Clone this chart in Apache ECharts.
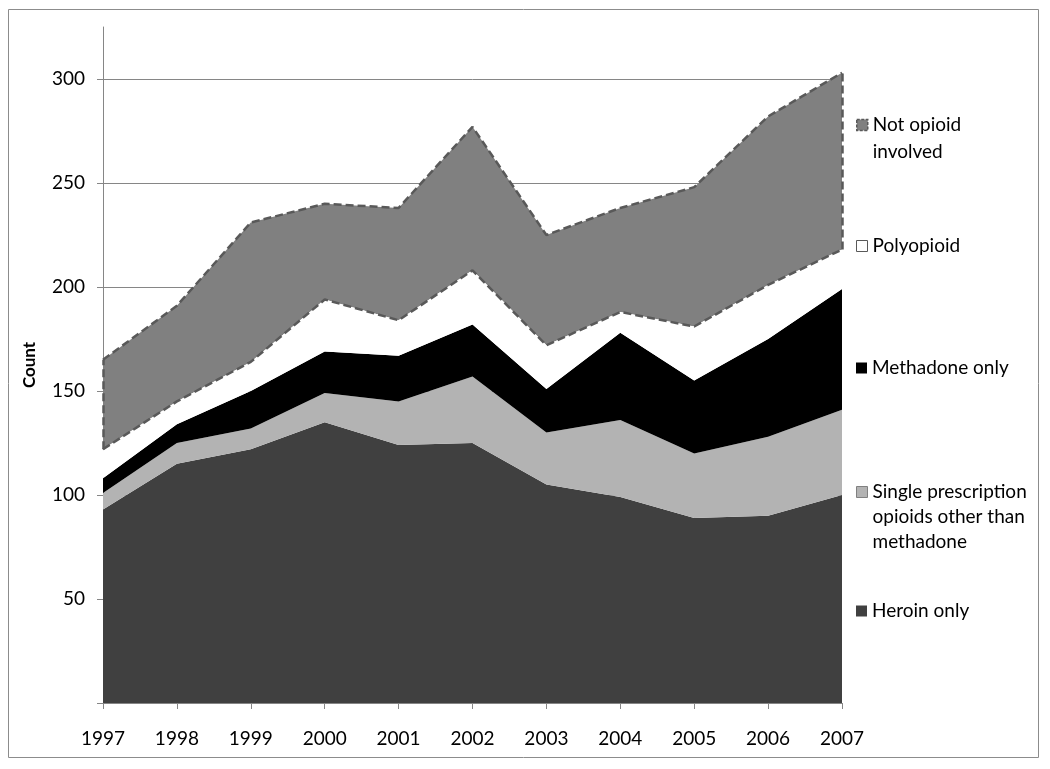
<!DOCTYPE html>
<html>
<head>
<meta charset="utf-8">
<script src="https://cdn.jsdelivr.net/npm/echarts@6/dist/echarts.min.js"></script>
<style>
html,body{margin:0;padding:0;background:#fff;}
#chart{width:1050px;height:769px;}
</style>
</head>
<body>
<div id="chart"></div>
<script>
const years = ['1997','1998','1999','2000','2001','2002','2003','2004','2005','2006','2007'];
const heroinOnly = [93,115,122,135,124,125,105,99,89,90,100];
const singlePrescription = [8,10,10,14,21,32,25,37,31,38,41];
const methadoneOnly = [7,9,18,20,22,25,21,42,35,47,58];
const polyopioid = [14,11,14,25,17,26,21,10,26,26,19];
const notOpioid = [43,46,67,46,54,69,53,50,67,81,85];
const yTicks = [0,50,100,150,200,250,300];

const names = {
  heroin: 'Heroin only',
  single: 'Single prescription opioids other than methadone',
  meth: 'Methadone only',
  poly: 'Polyopioid',
  not: 'Not opioid involved'
};

// cumulative tops used for the dashed side edges of the top area
const cumPoly = heroinOnly.map((v,i)=>v+singlePrescription[i]+methadoneOnly[i]+polyopioid[i]);
const cumNot = cumPoly.map((v,i)=>v+notOpioid[i]);
const last = years.length-1;

const FONT = 'Lato, "Open Sans", sans-serif';
const dashStyle = {color:'#595959', width:2.5, type:[8,4]};

function areaSeries(name, data, color, extra){
  return Object.assign({
    name, type:'line', stack:'total', data,
    symbol:'none', showSymbol:false,
    itemStyle:{color},
    areaStyle:{color, opacity:1},
    lineStyle:{width:0, color},
    emphasis:{disabled:true},
    animation:false
  }, extra||{});
}

// lines: text lines; blank lines are prepended so the icon sits level with the first line
function legendFor(name, top, lines, itemStyle, lineHeight){
  const pad = [];
  for(let i=1;i<lines.length;i++) pad.push(' ');
  const text = pad.concat(lines).join('\n');
  return {
    data:[name], left:856, top, orient:'vertical', padding:0,
    icon:'rect', itemWidth:11, itemHeight:11, selectedMode:false,
    itemStyle,
    formatter: ()=>text,
    textStyle:{fontFamily:FONT, fontSize:19, color:'#000', lineHeight}
  };
}

const chart = echarts.init(document.getElementById('chart'));
chart.setOption({
  backgroundColor:'#fff',
  animation:false,
  graphic:[{type:'rect', shape:{x:8.5,y:9.5,width:1030,height:748}, style:{fill:'none', stroke:'#8c8c8c', lineWidth:1}, z:-10, silent:true}],
  grid:{left:103, right:208, top:27, bottom:66, containLabel:false},
  xAxis:{
    type:'category', data:years, boundaryGap:false,
    axisLine:{lineStyle:{color:'#868686'}},
    axisTick:{show:true, length:6, lineStyle:{color:'#868686'}},
    axisLabel:{color:'#000', fontFamily:FONT, fontSize:19, margin:26},
    splitLine:{show:false}
  },
  yAxis:{
    type:'value', min:0, max:325, interval:50,
    name:'Count', nameLocation:'middle', nameRotate:90, nameGap:65,
    nameTextStyle:{fontFamily:FONT, fontSize:17, fontWeight:'bold', color:'#000'},
    axisLine:{show:true, lineStyle:{color:'#868686'}},
    axisTick:{show:true, length:6, lineStyle:{color:'#868686'}},
    axisLabel:{color:'#000', fontFamily:FONT, fontSize:19, margin:18, showMaxLabel:false,
      formatter:(v)=> (yTicks.indexOf(v)>0 ? String(v) : '')},
    splitLine:{show:true, showMinLine:false, showMaxLine:false, lineStyle:{color:'#868686', width:1}}
  },
  legend:[
    legendFor(names.not, 84.5, ['Not opioid','involved'], {color:'#808080', borderColor:'#595959', borderWidth:1.5, borderType:[3,1.5]}, 27),
    legendFor(names.poly, 233.5, ['Polyopioid'], {color:'#ffffff', borderColor:'#595959', borderWidth:1}, 25),
    legendFor(names.meth, 355.5, ['Methadone only'], {color:'#000000', borderWidth:0}, 25),
    legendFor(names.single, 429.5, ['Single prescription','opioids other than','methadone'], {color:'#b3b3b3', borderColor:'#808080', borderWidth:1}, 25),
    legendFor(names.heroin, 598.5, ['Heroin only'], {color:'#404040', borderWidth:0}, 25)
  ],
  series:[
    areaSeries(names.heroin, heroinOnly, '#404040'),
    areaSeries(names.single, singlePrescription, '#b3b3b3'),
    areaSeries(names.meth, methadoneOnly, '#000000'),
    areaSeries(names.poly, polyopioid, '#ffffff', {lineStyle:dashStyle, z:4}),
    areaSeries(names.not, notOpioid, '#808080', {lineStyle:dashStyle, z:3,
      markLine:{
        silent:true, symbol:['none','none'], label:{show:false},
        lineStyle:dashStyle, animation:false,
        data:[
          [{coord:[years[0], cumPoly[0]]},{coord:[years[0], cumNot[0]]}],
          [{coord:[years[last], cumPoly[last]]},{coord:[years[last], cumNot[last]]}]
        ]
      }})
  ]
});
</script>
</body>
</html>
